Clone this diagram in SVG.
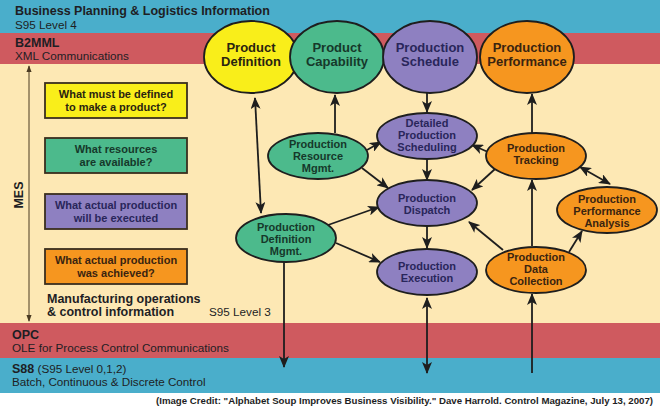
<svg xmlns="http://www.w3.org/2000/svg" width="660" height="409" viewBox="0 0 660 409">
<style>
text{font-family:"Liberation Sans",Arial,sans-serif;}
.hb{font-weight:bold;font-size:12.5px;fill:#1e1e24;}
.hn{font-size:11.7px;fill:#1e1e24;}
.q{font-size:11px;font-weight:bold;text-anchor:middle;}
.bx{stroke:#3a2e1e;stroke-width:1.8;}
.big{font-size:13px;font-weight:bold;text-anchor:middle;}
.sm{font-size:11px;font-weight:bold;text-anchor:middle;}
.el{stroke:#1e1e1e;stroke-width:1.8;}
.yel{fill:#f9ee1a;} .grn{fill:#4cba8c;} .pur{fill:#8e80c1;} .org{fill:#f6961f;}
.ty{fill:#2a2410;} .tg{fill:#16382a;} .tp{fill:#29265a;} .to{fill:#3a2410;}
.c{stroke:#1e1e1e;stroke-width:1.8;fill:none;}
</style>
<defs>
<marker id="ah" viewBox="0 0 12 10" refX="11" refY="5" markerWidth="12" markerHeight="10" markerUnits="userSpaceOnUse" orient="auto-start-reverse">
<path d="M0,0 L12,5 L0,10 L3,5 z" fill="#1e1e1e"/>
</marker>
<marker id="sm" viewBox="0 0 8 6" refX="7" refY="3" markerWidth="7" markerHeight="6" markerUnits="userSpaceOnUse" orient="auto-start-reverse">
<path d="M0,0 L8,3 L0,6 z" fill="#4a3a22"/>
</marker>
</defs>
<rect x="0" y="0" width="660" height="409" fill="#ffffff"/>
<g id="bands">
<rect x="0" y="0" width="660" height="33" fill="#4aaecb"/>
<rect x="0" y="33" width="660" height="31" fill="#cf5a5f"/>
<rect x="0" y="64" width="660" height="259" fill="#fde8b4"/>
<rect x="0" y="323" width="660" height="35" fill="#cf5a5f"/>
<rect x="0" y="358" width="660" height="35" fill="#4aaecb"/>
<text class="hb" x="15" y="15">Business Planning &amp; Logistics Information</text>
<text class="hn" x="15" y="29">S95 Level 4</text>
<text class="hb" x="15" y="47">B2MML</text>
<text class="hn" x="15" y="60">XML Communications</text>
<text class="hb" x="12" y="339">OPC</text>
<text class="hn" x="12" y="352">OLE for Process Control Communications</text>
<text x="12" y="373" style="font-size:11.7px;fill:#1e1e24;"><tspan font-weight="bold" font-size="12.5">S88</tspan> (S95 Level 0,1,2)</text>
<text class="hn" x="12" y="386">Batch, Continuous &amp; Discrete Control</text>
<text x="653" y="404" text-anchor="end" textLength="497" lengthAdjust="spacingAndGlyphs" style="font-size:9.5px;font-weight:bold;fill:#1e1e24;">(Image Credit: "Alphabet Soup Improves Business Visibility." Dave Harrold. Control Magazine, July 13, 2007)</text>
</g>
<g id="mes">
<line x1="29" y1="66" x2="29" y2="321" stroke="#4a3a22" stroke-width="1" marker-start="url(#sm)" marker-end="url(#sm)"/>
<text class="hb" transform="translate(23,195) rotate(-90)" text-anchor="middle">MES</text>
<text class="hb" x="47" y="303">Manufacturing operations</text>
<text class="hb" x="47" y="316">&amp; control information</text>
<text class="hn" x="209" y="316">S95 Level 3</text>
</g>
<g id="q1"><rect class="bx yel" x="45" y="83" width="142" height="35"/><text class="q ty" x="116" y="98">What must be defined</text><text class="q ty" x="116" y="111">to make a product?</text></g>
<g id="q2"><rect class="bx grn" x="45" y="138" width="142" height="35"/><text class="q tg" x="116" y="153">What resources</text><text class="q tg" x="116" y="166">are available?</text></g>
<g id="q3"><rect class="bx pur" x="45" y="194" width="142" height="35"/><text class="q tp" x="116" y="209">What actual production</text><text class="q tp" x="116" y="222">will be executed</text></g>
<g id="q4"><rect class="bx org" x="45" y="249" width="142" height="35"/><text class="q to" x="116" y="264">What actual production</text><text class="q to" x="116" y="277">was achieved?</text></g>
<g id="connectors">
<line class="c" x1="255" y1="98" x2="261" y2="213" marker-start="url(#ah)" marker-end="url(#ah)"/>
<line class="c" x1="335" y1="133" x2="335" y2="95" marker-end="url(#ah)"/>
<line class="c" x1="427" y1="93" x2="427" y2="112" marker-end="url(#ah)"/>
<line class="c" x1="427" y1="159" x2="427" y2="180" marker-end="url(#ah)"/>
<line class="c" x1="427" y1="226" x2="427" y2="248" marker-end="url(#ah)"/>
<line class="c" x1="532" y1="133" x2="532" y2="94" marker-end="url(#ah)"/>
<line class="c" x1="532" y1="246" x2="532" y2="180" marker-end="url(#ah)"/>
<line class="c" x1="488" y1="152" x2="472" y2="145" marker-end="url(#ah)"/>
<line class="c" x1="495" y1="169" x2="472" y2="190" marker-end="url(#ah)"/>
<line class="c" x1="580" y1="167" x2="610" y2="184" marker-start="url(#ah)" marker-end="url(#ah)"/>
<line class="c" x1="569" y1="252" x2="582" y2="231" marker-end="url(#ah)"/>
<line class="c" x1="503" y1="250" x2="469" y2="222" marker-end="url(#ah)"/>
<line class="c" x1="367" y1="150" x2="381" y2="142" marker-end="url(#ah)"/>
<line class="c" x1="362" y1="168" x2="388" y2="188" marker-end="url(#ah)"/>
<line class="c" x1="328" y1="225" x2="379" y2="207" marker-end="url(#ah)"/>
<line class="c" x1="336" y1="243" x2="380" y2="262" marker-end="url(#ah)"/>
<line class="c" x1="284" y1="262" x2="284" y2="367" marker-end="url(#ah)"/>
<line class="c" x1="427" y1="298" x2="427" y2="373" marker-start="url(#ah)" marker-end="url(#ah)"/>
<line class="c" x1="532" y1="373" x2="532" y2="294" marker-end="url(#ah)"/>
</g>
<g id="product-definition"><ellipse class="el yel" cx="251" cy="57" rx="47" ry="36"/><text class="big ty" x="251" y="52">Product</text><text class="big ty" x="251" y="66">Definition</text></g>
<g id="product-capability"><ellipse class="el grn" cx="337" cy="57" rx="47" ry="36"/><text class="big tg" x="337" y="52">Product</text><text class="big tg" x="337" y="66">Capability</text></g>
<g id="production-schedule"><ellipse class="el pur" cx="430" cy="57" rx="47" ry="36"/><text class="big tp" x="430" y="52">Production</text><text class="big tp" x="430" y="66">Schedule</text></g>
<g id="production-performance"><ellipse class="el org" cx="527" cy="57" rx="47" ry="36"/><text class="big to" x="527" y="52">Production</text><text class="big to" x="527" y="66">Performance</text></g>
<g id="detailed-scheduling"><ellipse class="el pur" cx="427" cy="136" rx="50" ry="23"/><text class="sm tp" x="427" y="127">Detailed</text><text class="sm tp" x="427" y="139">Production</text><text class="sm tp" x="427" y="151">Scheduling</text></g>
<g id="production-tracking"><ellipse class="el org" cx="536" cy="156" rx="50" ry="23"/><text class="sm to" x="536" y="152">Production</text><text class="sm to" x="536" y="164">Tracking</text></g>
<g id="production-dispatch"><ellipse class="el pur" cx="427" cy="203" rx="50" ry="23"/><text class="sm tp" x="427" y="202">Production</text><text class="sm tp" x="427" y="214">Dispatch</text></g>
<g id="performance-analysis"><ellipse class="el org" cx="607" cy="210" rx="50" ry="23"/><text class="sm to" x="607" y="203">Production</text><text class="sm to" x="607" y="215">Performance</text><text class="sm to" x="607" y="227">Analysis</text></g>
<g id="production-execution"><ellipse class="el pur" cx="427" cy="272" rx="50" ry="23"/><text class="sm tp" x="427" y="270">Production</text><text class="sm tp" x="427" y="282">Execution</text></g>
<g id="data-collection"><ellipse class="el org" cx="536" cy="270" rx="50" ry="23"/><text class="sm to" x="536" y="261">Production</text><text class="sm to" x="536" y="273">Data</text><text class="sm to" x="536" y="285">Collection</text></g>
<g id="resource-mgmt"><ellipse class="el grn" cx="318" cy="156" rx="50" ry="23"/><text class="sm tg" x="318" y="148">Production</text><text class="sm tg" x="318" y="160">Resource</text><text class="sm tg" x="318" y="172">Mgmt.</text></g>
<g id="definition-mgmt"><ellipse class="el grn" cx="286" cy="238" rx="50" ry="24"/><text class="sm tg" x="286" y="231">Production</text><text class="sm tg" x="286" y="243">Definition</text><text class="sm tg" x="286" y="255">Mgmt.</text></g>
</svg>
